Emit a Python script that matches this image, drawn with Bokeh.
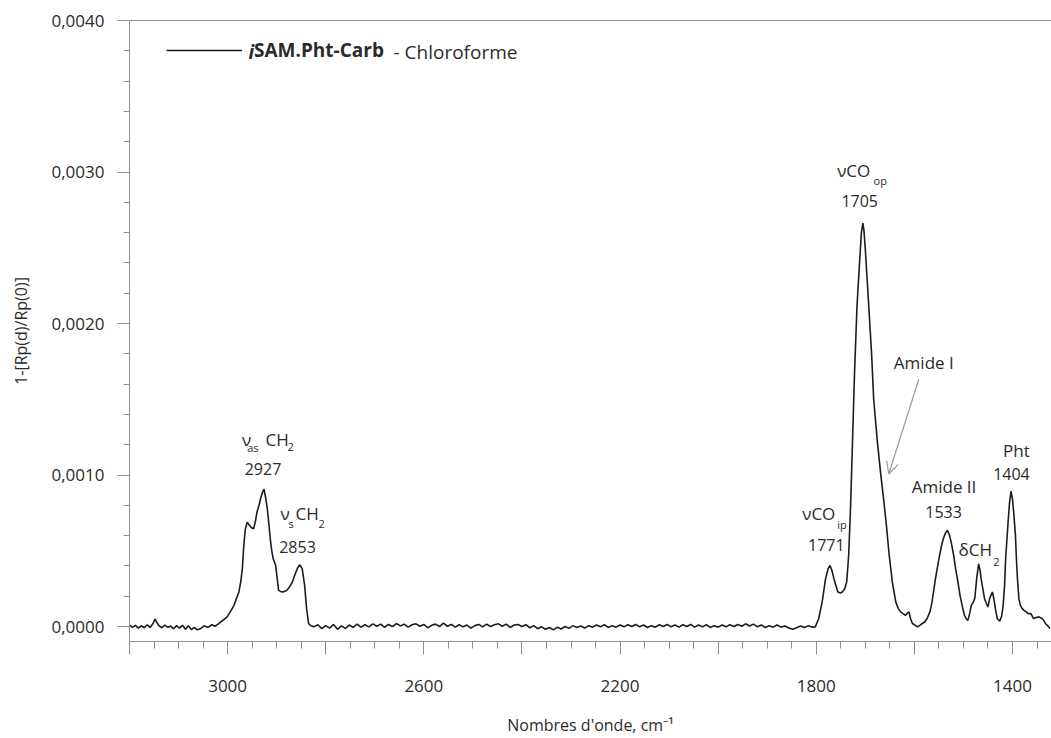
import numpy as np
from bokeh.plotting import figure
from bokeh.models import (Range1d, FixedTicker, CustomJSTickFormatter, LinearAxis,
                          Label, Arrow, OpenHead, Legend, LegendItem)
from bokeh.embed import file_html
from bokeh.resources import INLINE

# ---------------- data ----------------
WAVENUMBER = [
    3200, 3194, 3188, 3182, 3176, 3170, 3164, 3158, 3152, 3148, 3144, 3140, 3134, 3128, 3122, 3116,
    3110, 3104, 3098, 3092, 3086, 3080, 3074, 3068, 3062, 3055, 3048, 3040, 3032, 3026, 3020, 3014,
    3008, 3001, 2994, 2987, 2982, 2977, 2973, 2970, 2967, 2964, 2960, 2956, 2953, 2950, 2947, 2943,
    2940, 2936, 2933, 2929, 2926, 2923, 2919, 2916, 2913, 2910, 2907, 2902, 2899, 2896, 2892, 2889,
    2884, 2879, 2873, 2868, 2863, 2858, 2853, 2848, 2843, 2839, 2835, 2830, 2824,
    2816, 2808, 2800, 2792, 2784, 2776, 2768, 2760, 2752, 2744, 2736, 2728, 2720, 2712, 2704, 2696,
    2688, 2680, 2672, 2664, 2656, 2648, 2640, 2632, 2624, 2616, 2608, 2600, 2592, 2584, 2576, 2568,
    2560, 2552, 2544, 2536, 2528, 2520, 2512, 2504, 2496, 2488, 2480, 2472, 2464, 2456, 2448, 2440,
    2432, 2424, 2416, 2408, 2400, 2392, 2384, 2376, 2368, 2360, 2352, 2344, 2336, 2328, 2320, 2312,
    2304, 2296, 2288, 2280, 2272, 2264, 2256, 2248, 2240, 2232, 2224, 2216, 2208, 2200, 2192, 2184,
    2176, 2168, 2160, 2152, 2144, 2136, 2128, 2120, 2112, 2104, 2096, 2088, 2080, 2072, 2064, 2056,
    2048, 2040, 2032, 2024, 2016, 2008, 2000, 1992, 1984, 1976, 1968, 1960, 1952, 1944, 1936, 1928,
    1920, 1912, 1904, 1896, 1888, 1880, 1872, 1864, 1856, 1848, 1840, 1832, 1824, 1816, 1808,
    1802, 1795, 1788, 1781, 1776, 1772, 1768, 1764, 1756, 1751, 1747, 1742, 1738, 1734, 1730, 1726,
    1722, 1717, 1711, 1708, 1705, 1703, 1700, 1693, 1687, 1683, 1676, 1669, 1662, 1657, 1652, 1645,
    1638, 1633, 1628, 1623, 1618, 1614, 1611, 1608, 1604, 1599, 1594, 1589, 1584, 1579, 1574, 1568,
    1564, 1557, 1550, 1545, 1541, 1537, 1533, 1529, 1525, 1520, 1516, 1511, 1507, 1502, 1498, 1494,
    1491, 1487, 1484, 1480, 1477, 1473, 1469, 1466, 1464, 1460, 1457, 1453, 1450, 1447, 1444, 1441,
    1439, 1437, 1434, 1431, 1426, 1422, 1419, 1416, 1414, 1409, 1406, 1403, 1400, 1397, 1394, 1392,
    1390, 1387, 1384, 1380, 1376, 1372, 1368, 1363, 1360, 1357, 1352, 1346, 1343, 1340, 1336, 1333,
    1328, 1324,
]

# 1-[Rp(d)/Rp(0)] in units of 1e-6
SIGNAL_E6 = [
    10, -5, 8, -10, 5, -8, 12, -6, 20, 50, 25, 5, -8, 10, -5, 3,
    -15, 6, -10, 8, -18, 5, -20, -5, -22, -13, 5, -6, 12, 2, 14, 31,
    45, 64, 100, 140, 185, 228, 300, 382, 535, 640, 689, 670, 658, 650, 645, 700,
    757, 800, 842, 885, 908, 860, 776, 680, 579, 500, 447, 403, 320, 239, 232, 228,
    232, 239, 265, 294, 340, 382, 408, 382, 272, 118, 20, 5, -2,
    12, -14, 6, -10, 14, -18, 4, -12, 10, -6, 16, -4, 12, -2, 18, 2,
    16, -6, 14, 0, 20, 4, 16, -4, 12, 18, 2, 14, -8, 8, 16, 0,
    22, 2, 14, -4, 12, -2, 10, -10, 6, 14, -2, 16, 0, 12, 18, 2,
    16, -6, 10, 14, 0, 12, -8, 6, -14, -2, -18, -6, -22, -4, -16, 0,
    -12, 6, -6, 4, -10, 6, -4, 10, -2, 12, -6, 6, -4, 10, -2, 12,
    0, 14, -2, 10, -6, 6, -4, 12, 0, 14, -2, 10, -4, 12, 0, 14,
    -4, 10, -2, 12, -6, 6, -4, 10, -2, 12, 0, 14, 2, 18, 4, 16,
    -2, 10, -6, 6, -4, 10, -4, 4, -10, -18, -8, 4, -6, 6, -4,
    -2, 53, 163, 316, 380, 403, 370, 316, 228, 222, 228, 250, 294, 469, 798, 1237,
    1676, 2114, 2443, 2600, 2663, 2620, 2487, 2114, 1785, 1500, 1237, 1018, 820, 666, 491, 294,
    163, 120, 97, 85, 74, 90, 97, 55, 20, 10, -2, 8, 20, 30, 53, 100,
    163, 316, 447, 530, 579, 615, 634, 610, 557, 470, 382, 290, 206, 130, 74, 50,
    41, 90, 140, 160, 184, 316, 414, 370, 316, 240, 184, 150, 130, 180, 206, 228,
    200, 163, 100, 53, 35, 70, 140, 280, 447, 689, 820, 893, 840, 732, 600, 447,
    320, 184, 140, 118, 105, 97, 85, 86, 70, 53, 60, 64, 58, 53, 40, 20,
    5, -13,
]

SERIES_NAME = ["i", "SAM.Pht-Carb", "- Chloroforme"]

X_TICKS = [3200, 3000, 2800, 2600, 2400, 2200, 2000, 1800, 1600, 1400]
X_TICK_LABELS = {3000: "3000", 2600: "2600", 2200: "2200", 1800: "1800", 1400: "1400"}
Y_TICKS = [0.0, 0.001, 0.002, 0.003, 0.004]

# annotation text pieces: (text, wavenumber, value, kind, align)
ANNOTATIONS = [
    ("\u03bd", 2970.7, 0.001191, "main", "left"),
    ("as", 2960.1, 0.001138, "sub", "left"),
    ("CH", 2922.8, 0.001191, "main", "left"),
    ("2", 2877.9, 0.001138, "sub", "left"),
    ("2927", 2927.9, 0.000993, "num", "center"),
    ("\u03bd", 2892.2, 0.000697, "main", "left"),
    ("s", 2875.9, 0.000632, "sub", "left"),
    ("CH", 2861.6, 0.000697, "main", "left"),
    ("2", 2814.7, 0.000632, "sub", "left"),
    ("2853", 2857.5, 0.000480, "num", "center"),
    ("\u03bdCO", 1757.4, 0.002967, "main", "left"),
    ("op", 1683.3, 0.002901, "sub", "left"),
    ("1705", 1711.5, 0.002761, "num", "center"),
    ("Amide I", 1580.8, 0.001697, "main", "center"),
    ("Amide II", 1539.6, 0.000875, "main", "center"),
    ("1533", 1540.6, 0.000711, "num", "center"),
    ("\u03bdCO", 1828.7, 0.000699, "main", "left"),
    ("ip", 1757.4, 0.000625, "sub", "left"),
    ("1771", 1779.6, 0.000493, "num", "center"),
    ("\u03b4CH", 1510.0, 0.000461, "main", "left"),
    ("2", 1439.3, 0.000382, "sub", "left"),
    ("Pht", 1391.9, 0.001118, "main", "center"),
    ("1404", 1402.1, 0.000963, "num", "center"),
]
ARROW_FROM = (1591.0, 0.001632)
ARROW_TO = (1652.2, 0.001007)

# ---------------- styling ----------------
FONT = "Open Sans"
TEXT_COLOR = "#2b2b2b"
AXIS_COLOR = "#8f8f8f"
SIZES = {"main": "17px", "sub": "11px", "num": "16px"}
TEXT_LIFT = 7  # px

x = np.array(WAVENUMBER, dtype=float)
y = np.array(SIGNAL_E6, dtype=float) * 1e-6

p = figure(width=1051, height=738, output_backend="svg", toolbar_location=None,
           x_range=Range1d(3200, 1320.5), y_range=Range1d(-0.0000987, 0.0040),
           min_border_left=129, min_border_right=0, min_border_top=20, min_border_bottom=95)
p.outline_line_color = None
p.xgrid.visible = False
p.ygrid.visible = False
p.background_fill_color = "white"
p.border_fill_color = "white"

line = p.line(x, y, line_color="#1c1c1c", line_width=1.6)

# x axis
xa = p.xaxis[0]
xa.ticker = FixedTicker(ticks=X_TICKS, minor_ticks=list(range(3200, 1300, -50)))
xa.major_label_overrides = {t: X_TICK_LABELS.get(t, "") for t in X_TICKS}
xa.axis_label = "Nombres d'onde, cm\u207b\u00b9"
# y axis
ya = p.yaxis[0]
ya.ticker = FixedTicker(ticks=Y_TICKS, minor_ticks=[0.0002, 0.0004, 0.0006, 0.0008, 0.0012, 0.0014,
                                                   0.0016, 0.0018, 0.0022, 0.0024, 0.0026, 0.0028,
                                                   0.0032, 0.0034, 0.0036, 0.0038])
ya.formatter = CustomJSTickFormatter(code="return tick.toFixed(4).replace('.', ',');")
ya.axis_label = "1-[Rp(d)/Rp(0)]"

for ax in (xa, ya):
    ax.axis_line_color = AXIS_COLOR
    ax.major_tick_line_color = AXIS_COLOR
    ax.minor_tick_line_color = AXIS_COLOR
    ax.major_tick_in = 0
    ax.minor_tick_in = 0
    ax.major_label_text_font = FONT
    ax.major_label_text_font_size = "17px"
    ax.major_label_text_color = TEXT_COLOR
    ax.axis_label_text_font = FONT
    ax.axis_label_text_font_size = "16px"
    ax.axis_label_text_font_style = "normal"
    ax.axis_label_text_color = TEXT_COLOR

xa.major_tick_out = 13
xa.minor_tick_out = 7
xa.major_label_standoff = 25
xa.axis_label_standoff = 19
ya.major_tick_out = 12
ya.minor_tick_out = 6
ya.major_label_standoff = 13
ya.axis_label_standoff = 16

# top border line (axis without ticks or labels)
top = LinearAxis(ticker=FixedTicker(ticks=[]), major_tick_line_color=None,
                 minor_tick_line_color=None, axis_line_color=AXIS_COLOR)
p.add_layout(top, "above")

# annotations
for text, wx, vy, kind, align in ANNOTATIONS:
    p.add_layout(Label(x=wx, y=vy, text=text, text_font=FONT, text_font_size=SIZES[kind],
                       text_color=TEXT_COLOR, text_align=align, text_baseline="alphabetic",
                       y_offset=TEXT_LIFT))

p.add_layout(Arrow(end=OpenHead(size=12, line_color="#9a9a9a", line_width=1.2),
                   x_start=ARROW_FROM[0], y_start=ARROW_FROM[1],
                   x_end=ARROW_TO[0], y_end=ARROW_TO[1],
                   line_color="#9a9a9a", line_width=1.2))

# legend: line key + bold series name, plus italic "i" and plain suffix
legend = Legend(items=[LegendItem(label=SERIES_NAME[1], renderers=[line])], location=(37, 578),
                padding=0, margin=0, glyph_width=76, glyph_height=26, label_height=26,
                label_standoff=12, label_text_font=FONT, label_text_font_size="19px",
                label_text_font_style="bold", label_text_color=TEXT_COLOR,
                border_line_color=None, background_fill_alpha=0)
p.add_layout(legend)
p.add_layout(Label(x=2957.4, y=0.003748, text=SERIES_NAME[0], text_font=FONT, text_font_size="19px",
                   text_font_style="bold italic", text_color=TEXT_COLOR, text_baseline="alphabetic",
                   y_offset=TEXT_LIFT))
p.add_layout(Label(x=2661.8, y=0.003748, text=SERIES_NAME[2], text_font=FONT, text_font_size="19px",
                   text_color=TEXT_COLOR, text_baseline="alphabetic", y_offset=TEXT_LIFT))

open("out.html", "w").write(file_html(p, INLINE))
